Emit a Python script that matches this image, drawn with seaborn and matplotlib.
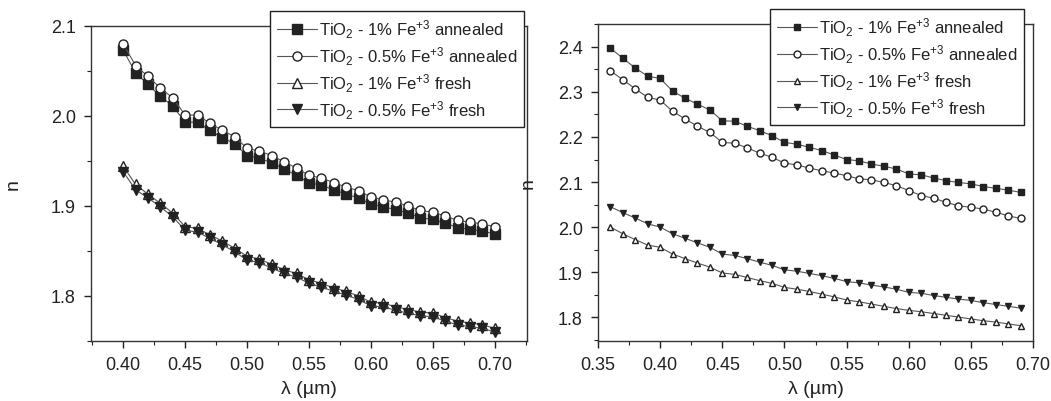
import matplotlib
matplotlib.use("Agg")
import matplotlib.pyplot as plt
import seaborn as sns
from matplotlib.ticker import MultipleLocator

# left panel: wavelength (um) and refractive index
lam_left = [0.40, 0.41, 0.42, 0.43, 0.44, 0.45, 0.46, 0.47, 0.48, 0.49, 0.50,
            0.51, 0.52, 0.53, 0.54, 0.55, 0.56, 0.57, 0.58, 0.59, 0.60,
            0.61, 0.62, 0.63, 0.64, 0.65, 0.66, 0.67, 0.68, 0.69, 0.70]
left_1_annealed = [2.073, 2.048, 2.035, 2.022, 2.011, 1.993, 1.993, 1.984, 1.976, 1.969, 1.956,
                   1.953, 1.948, 1.941, 1.934, 1.926, 1.923, 1.918, 1.913, 1.909, 1.902,
                   1.899, 1.896, 1.892, 1.887, 1.885, 1.881, 1.876, 1.874, 1.872, 1.869]
left_05_annealed = [2.080, 2.056, 2.044, 2.031, 2.020, 2.001, 2.001, 1.992, 1.984, 1.977, 1.964,
                    1.961, 1.956, 1.949, 1.942, 1.934, 1.931, 1.926, 1.921, 1.917, 1.910,
                    1.907, 1.904, 1.900, 1.895, 1.893, 1.889, 1.884, 1.882, 1.880, 1.877]
left_1_fresh = [1.944, 1.924, 1.913, 1.903, 1.892, 1.877, 1.875, 1.868, 1.861, 1.853, 1.844,
                1.841, 1.835, 1.829, 1.825, 1.818, 1.814, 1.809, 1.805, 1.800, 1.793,
                1.792, 1.788, 1.785, 1.782, 1.781, 1.776, 1.772, 1.770, 1.768, 1.764]
left_05_fresh = [1.938, 1.918, 1.909, 1.899, 1.888, 1.873, 1.871, 1.864, 1.857, 1.849, 1.840,
                 1.837, 1.831, 1.825, 1.821, 1.814, 1.810, 1.805, 1.801, 1.796, 1.789,
                 1.788, 1.784, 1.781, 1.778, 1.777, 1.772, 1.768, 1.766, 1.764, 1.760]

# right panel
lam_right = [0.36, 0.37, 0.38, 0.39, 0.40, 0.41, 0.42, 0.43, 0.44, 0.45, 0.46, 0.47,
             0.48, 0.49, 0.50, 0.51, 0.52, 0.53, 0.54, 0.55, 0.56, 0.57, 0.58,
             0.59, 0.60, 0.61, 0.62, 0.63, 0.64, 0.65, 0.66, 0.67, 0.68, 0.69]
right_1_annealed = [2.397, 2.375, 2.353, 2.335, 2.330, 2.302, 2.286, 2.273, 2.260, 2.236, 2.235, 2.224,
                    2.214, 2.203, 2.188, 2.184, 2.177, 2.170, 2.160, 2.150, 2.147, 2.140, 2.135,
                    2.129, 2.118, 2.116, 2.109, 2.103, 2.099, 2.096, 2.090, 2.086, 2.082, 2.077]
right_05_annealed = [2.347, 2.327, 2.307, 2.288, 2.282, 2.257, 2.240, 2.224, 2.210, 2.188, 2.186, 2.176,
                     2.164, 2.155, 2.142, 2.138, 2.131, 2.125, 2.120, 2.114, 2.107, 2.105, 2.099,
                     2.092, 2.081, 2.070, 2.064, 2.055, 2.047, 2.044, 2.040, 2.033, 2.025, 2.019]
right_1_fresh = [2.000, 1.985, 1.972, 1.960, 1.955, 1.940, 1.930, 1.920, 1.911, 1.898, 1.895, 1.888,
                 1.881, 1.875, 1.866, 1.862, 1.857, 1.851, 1.845, 1.838, 1.834, 1.829, 1.824,
                 1.819, 1.815, 1.812, 1.808, 1.804, 1.800, 1.796, 1.792, 1.789, 1.785, 1.781]
right_05_fresh = [2.045, 2.032, 2.020, 2.007, 2.000, 1.985, 1.975, 1.965, 1.955, 1.940, 1.937, 1.930,
                  1.922, 1.915, 1.905, 1.902, 1.897, 1.892, 1.886, 1.879, 1.876, 1.871, 1.867,
                  1.862, 1.855, 1.853, 1.848, 1.844, 1.840, 1.837, 1.832, 1.828, 1.824, 1.820]

labels = [r"TiO$_2$ - 1% Fe$^{+3}$ annealed",
          r"TiO$_2$ - 0.5% Fe$^{+3}$ annealed",
          r"TiO$_2$ - 1% Fe$^{+3}$ fresh",
          r"TiO$_2$ - 0.5% Fe$^{+3}$ fresh"]
markers = ["s", "o", "^", "v"]
faces = ["#222222", "white", "white", "#222222"]

sns.set_style("ticks")
plt.rcParams["font.family"] = ["Liberation Sans", "DejaVu Sans"]
plt.rcParams["mathtext.fontset"] = "custom"
plt.rcParams["mathtext.rm"] = "Liberation Sans"
plt.rcParams["mathtext.it"] = "Liberation Sans:italic"
plt.rcParams["text.color"] = "#222222"
plt.rcParams["axes.labelcolor"] = "#222222"
plt.rcParams["xtick.color"] = "#222222"
plt.rcParams["ytick.color"] = "#222222"

fig = plt.figure(figsize=(10.51, 4.02), dpi=100)
ax1 = fig.add_axes([0.0866, 0.1493, 0.4148, 0.7836])
ax2 = fig.add_axes([0.569, 0.1493, 0.4139, 0.7886])

panels = [
    (ax1, lam_left, [left_1_annealed, left_05_annealed, left_1_fresh, left_05_fresh], 6.5),
    (ax2, lam_right, [right_1_annealed, right_05_annealed, right_1_fresh, right_05_fresh], 5.0),
]

for ax, lam, series, ms in panels:
    for vals, lab, m, fc in zip(series, labels, markers, faces):
        sns.lineplot(x=lam, y=vals, ax=ax, label=lab, marker=m, markersize=ms,
                     markerfacecolor=fc, markeredgecolor="#222222", markeredgewidth=1.0,
                     color="#555555", linewidth=0.8)
    for s in ax.spines.values():
        s.set_visible(True)
        s.set_color("#333333")
        s.set_linewidth(1.0)
    ax.tick_params(which="major", direction="out", length=5, width=1, labelsize=13, pad=6)
    ax.tick_params(which="minor", direction="out", length=3, width=0.8)
    ax.tick_params(top=False, right=False)
    ax.xaxis.set_major_locator(MultipleLocator(0.05))
    ax.xaxis.set_minor_locator(MultipleLocator(0.025))
    ax.yaxis.set_major_locator(MultipleLocator(0.1))
    ax.yaxis.set_minor_locator(MultipleLocator(0.05))
    ax.xaxis.set_major_formatter(plt.FormatStrFormatter("%.2f"))
    ax.yaxis.set_major_formatter(plt.FormatStrFormatter("%.1f"))
    ax.set_xlabel("λ (µm)", fontsize=14, labelpad=5)
    ax.set_ylabel("n", fontsize=14)

ax1.set_xlim(0.374, 0.726)
ax1.set_ylim(1.75, 2.10)
ax2.set_xlim(0.35, 0.70)
ax2.set_ylim(1.747, 2.451)

ax1.yaxis.set_label_coords(-0.16, 0.5)
ax2.yaxis.set_label_coords(-0.14, 0.5)

leg_kw = dict(loc="upper left", bbox_transform=fig.transFigure, fontsize=12,
              frameon=True, fancybox=False, edgecolor="#222222", framealpha=1,
              handlelength=2.4, handletextpad=0.15, labelspacing=0.25,
              borderpad=0.4, borderaxespad=0)
l1 = ax1.legend(bbox_to_anchor=(0.257, 0.970), **leg_kw)
l2 = ax2.legend(bbox_to_anchor=(0.7326, 0.975), **leg_kw)
for lg in (l1, l2):
    lg.get_frame().set_linewidth(1.0)

fig.savefig("out.png", dpi=100)
